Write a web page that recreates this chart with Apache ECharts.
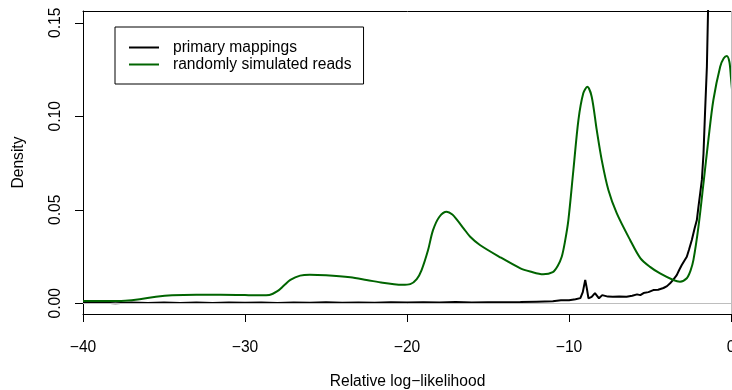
<!DOCTYPE html>
<html>
<head>
  <meta charset="utf-8"/>
  <title>Relative log-likelihood density</title>
  <script src="https://cdn.jsdelivr.net/npm/echarts@6/dist/echarts.min.js"></script>
  <style>
    html, body { margin: 0; padding: 0; background: #fff; }
    #chart { width: 732px; height: 390px; }
  </style>
</head>
<body>
<div id="chart"></div>
<script>
// density estimates, x = relative log-likelihood
var simX = [-40, -39, -38, -37.4, -36.5, -35.5, -34.5, -33, -31.5, -30, -29, -28.5, -28, -27.6, -27.2, -26.6, -26,
  -25, -23.5, -22.5, -21.5, -20.8, -20.3, -19.8, -19.4, -19.1, -18.7, -18.4, -18, -17.55, -17.2, -16.9, -16.5,
  -16.1, -15.5, -14.3, -13, -12.4, -11.6, -11, -10.7, -10.45, -10.25, -10.04, -9.73, -9.42, -9.12, -8.87, -8.6,
  -8.29, -7.98, -7.57, -7.05, -6.23, -5.6, -5, -4.38, -3.56, -3.15, -2.73, -2.5, -2.32, -2.01, -1.7, -1.4, -1.09,
  -0.67, -0.45, -0.26, -0.1, -0.01, 0.15, 0.3];
var simY = [0.0013, 0.0013, 0.0013, 0.0014, 0.0022, 0.0035, 0.0043, 0.0046, 0.0046, 0.0044, 0.0043, 0.0045, 0.0065,
  0.0095, 0.0125, 0.0148, 0.0153, 0.0150, 0.0139, 0.0125, 0.0110, 0.0102, 0.0099, 0.0103, 0.0130, 0.0178, 0.0285,
  0.0390, 0.0463, 0.0490, 0.0475, 0.0445, 0.0400, 0.0356, 0.0312, 0.0249, 0.0187, 0.0170, 0.0155, 0.0167, 0.0200,
  0.0249, 0.0330, 0.0445, 0.0713, 0.0980, 0.1123, 0.1158, 0.1105, 0.0927, 0.0766, 0.0606, 0.0481, 0.0339, 0.0242,
  0.0195, 0.0160, 0.0125, 0.0116, 0.0134, 0.0175, 0.0232, 0.0410, 0.0642, 0.0873, 0.1087, 0.1265, 0.1310, 0.1322,
  0.1290, 0.1212, 0.105, 0.085];

var priX = [-40, -39, -38, -37, -36, -35, -34, -33, -32, -31, -30, -29, -28, -27, -26, -25, -24, -23, -22, -21, -20,
  -19, -18, -17, -16, -15, -14, -13, -12, -11, -10.5, -10, -9.6, -9.3, -9.15, -9, -8.9, -8.8, -8.6, -8.4, -8.3,
  -8.15, -7.95, -7.6, -7.3, -6.9, -6.45, -6.1, -5.8, -5.6, -5.4, -5.1, -4.8, -4.5, -4.17, -3.95, -3.76, -3.55,
  -3.35, -3.2, -3.04, -2.9, -2.73, -2.6, -2.42, -2.25, -2.11, -2.01, -1.9, -1.8, -1.7, -1.6, -1.49, -1.41, -1.3,
  -1, -0.5, 0];
var priY = [0.0002, 0.0004, 0.0001, 0.0004, 0.0002, 0.0005, 0.0002, 0.0004, 0.0002, 0.0005, 0.0003, 0.0005, 0.0002,
  0.0005, 0.0003, 0.0006, 0.0003, 0.0005, 0.0003, 0.0006, 0.0004, 0.0006, 0.0004, 0.0007, 0.0004, 0.0006, 0.0006,
  0.0007, 0.0009, 0.0011, 0.0016, 0.0017, 0.0022, 0.0028, 0.0060, 0.0125, 0.0080, 0.0027, 0.0035, 0.0055, 0.0057,
  0.0027, 0.0044, 0.0036, 0.0035, 0.0037, 0.0035, 0.0041, 0.0048, 0.0044, 0.0055, 0.0060, 0.0071, 0.0073, 0.0082,
  0.0092, 0.0107, 0.0128, 0.0151, 0.0178, 0.0205, 0.0225, 0.0249, 0.0285, 0.0339, 0.0400, 0.0445, 0.0517, 0.0590,
  0.0660, 0.0800, 0.1030, 0.1265, 0.1600, 0.21, 0.30, 0.40, 0.45];

var xTicks = [-40, -30, -20, -10, 0];
var yTicks = [0, 0.05, 0.10, 0.15];

function pairs(xs, ys) {
  return xs.map(function (x, i) { return [x, ys[i]]; });
}

var font = 'Liberation Sans, Arial, sans-serif';
var lineIcon = 'path://M0,0L30,0L30,2L0,2Z';
var chart = echarts.init(document.getElementById('chart'), null, { renderer: 'canvas' });

chart.setOption({
  animation: false,
  backgroundColor: '#fff',
  textStyle: { fontFamily: font },
  grid: { left: 83, top: 11, right: 0, bottom: 76, outerBoundsMode: 'none', containLabel: false },
  legend: {
    orient: 'vertical',
    left: 115, top: 27,
    padding: [12, 12, 11, 14],
    itemWidth: 30, itemHeight: 2, itemGap: 0,
    borderColor: '#000', borderWidth: 1,
    icon: lineIcon,
    selectedMode: false,
    textStyle: { fontFamily: font, fontSize: 15.6, lineHeight: 17, color: '#000', padding: [0, 0, 0, 9] },
    data: [
      { name: 'primary mappings', itemStyle: { color: '#000' } },
      { name: 'randomly simulated reads', itemStyle: { color: '#006400' } }
    ]
  },
  xAxis: [{
    type: 'value',
    min: -40, max: 0.06,
    name: 'Relative log\u2212likelihood',
    nameLocation: 'middle', nameGap: 60,
    nameTextStyle: { fontFamily: font, fontSize: 15.6, color: '#000' },
    axisLine: { show: true, onZero: false, lineStyle: { color: '#000', width: 1 } },
    axisTick: { show: true, length: 8, customValues: xTicks, lineStyle: { color: '#000' } },
    axisLabel: {
      customValues: xTicks, margin: 26, color: '#000', fontSize: 15.6, fontFamily: font,
      formatter: function (v) { return String(v).replace('-', '\u2212'); }
    },
    splitLine: { show: false }
  }, {
    // top edge of the plot box
    type: 'value', position: 'top',
    min: -40, max: 0.06,
    axisLine: { show: true, onZero: false, lineStyle: { color: '#000', width: 1 } },
    axisTick: { show: false }, axisLabel: { show: false }, splitLine: { show: false }
  }],
  yAxis: {
    type: 'value',
    min: -0.0057, max: 0.1563,
    name: 'Density',
    nameLocation: 'middle', nameGap: 56,
    nameTextStyle: { fontFamily: font, fontSize: 15.6, color: '#000' },
    axisLine: { show: true, onZero: false, lineStyle: { color: '#000', width: 1 } },
    axisTick: { show: true, length: 8, customValues: yTicks, lineStyle: { color: '#000' } },
    axisLabel: {
      customValues: yTicks, rotate: 90, margin: 19, color: '#000', fontSize: 15.6, fontFamily: font,
      formatter: function (v) { return v.toFixed(2); }
    },
    splitLine: { show: false }
  },
  series: [
    {
      name: 'primary mappings',
      type: 'line',
      data: pairs(priX, priY),
      symbol: 'none',
      clip: true,
      z: 3,
      lineStyle: { color: '#000', width: 2 },
      itemStyle: { color: '#000' },
      markLine: {
        silent: true, symbol: 'none', label: { show: false },
        lineStyle: { color: '#bebebe', width: 1, type: 'solid' },
        data: [{ yAxis: 0 }, { xAxis: 0 }]
      }
    },
    {
      name: 'randomly simulated reads',
      type: 'line',
      data: pairs(simX, simY),
      symbol: 'none',
      smooth: 0.3,
      clip: true,
      z: 4,
      lineStyle: { color: '#006400', width: 2 },
      itemStyle: { color: '#006400' }
    }
  ]
});
</script>
</body>
</html>
